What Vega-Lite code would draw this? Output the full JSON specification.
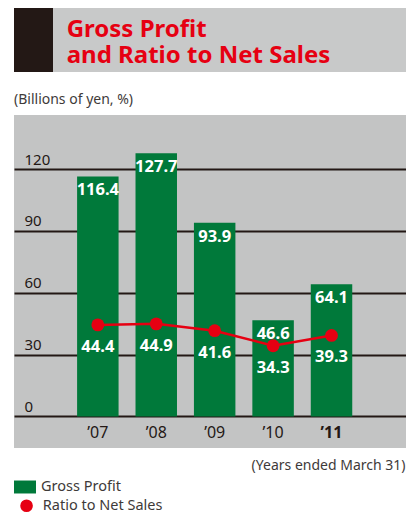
{
  "$schema": "https://vega.github.io/schema/vega-lite/v6.json",
  "background": "white",
  "padding": {"left": 14, "top": 8, "right": 0, "bottom": 0},
  "config": {"font": "Noto Sans", "view": {"stroke": null}},
  "datasets": {
    "main": [
      {"year": "’07", "gross": 116.4, "ratio": 44.4},
      {"year": "’08", "gross": 127.7, "ratio": 44.9},
      {"year": "’09", "gross": 93.9, "ratio": 41.6},
      {"year": "’10", "gross": 46.6, "ratio": 34.3},
      {"year": "’11", "gross": 64.1, "ratio": 39.3}
    ]
  },
  "spacing": 21,
  "vconcat": [
    {
      "hconcat": [
        {
          "width": 39, "height": 64,
          "view": {"fill": "#231815", "stroke": null},
          "data": {"values": [{}]},
          "mark": {"type": "text", "text": ""}
        },
        {
          "width": 353, "height": 64,
          "view": {"fill": "#c8c9c9", "stroke": null},
          "title": {
            "text": ["Gross Profit", "and Ratio to Net Sales"],
            "anchor": "start", "frame": "group", "orient": "top",
            "offset": -79.3, "baseline": "alphabetic", "dx": 13.7,
            "color": "#e60012", "fontSize": 24, "fontWeight": "bold", "lineHeight": 26
          },
          "data": {"values": [{}]},
          "mark": {"type": "text", "text": ""}
        }
      ],
      "spacing": 0
    },
    {
      "width": 392, "height": 333,
      "data": {"name": "main"},
      "view": {"fill": "#c3c4c4", "stroke": null},
      "title": {
        "text": "(Billions of yen, %)", "anchor": "start", "frame": "group", "orient": "top",
        "offset": -3, "baseline": "alphabetic", "fontSize": 14, "fontWeight": "normal", "color": "#3e3a39"
      },
      "encoding": {
        "x": {
          "field": "year", "type": "ordinal", "sort": null,
          "scale": {"paddingInner": 0.29, "paddingOuter": 1.03, "align": 0.54},
          "axis": {
            "orient": "bottom", "domain": false, "ticks": false, "tickSize": 0,
            "labelPadding": -16, "labelBaseline": "middle", "labelAngle": 0,
            "labelFontSize": 16, "labelColor": "#231815",
            "labelFontWeight": {"condition": {"test": "datum.value === '’11'", "value": "bold"}, "value": "normal"},
            "title": "(Years ended March 31)", "titleAnchor": "end", "titleAlign": "right",
            "titleX": 391, "titleY": 17, "titleBaseline": "middle",
            "titleFontSize": 14, "titleFontWeight": "normal", "titleColor": "#3e3a39"
          }
        }
      },
      "layer": [
        {
          "mark": {"type": "bar"},
          "encoding": {
            "y": {
              "field": "gross", "type": "quantitative", "title": null,
              "scale": {"domain": [-15.3, 146.2], "nice": false, "zero": false},
              "axis": {
                "orient": "left", "values": [0, 30, 60, 90, 120], "grid": true,
                "gridColor": "#231815", "gridWidth": 2, "domain": false, "ticks": false, "tickSize": 0,
                "labelAlign": "left", "labelBaseline": "alphabetic", "labelPadding": -10, "labelOffset": -5,
                "labelFontSize": 15, "labelColor": "#231815", "title": null
              }
            },
            "y2": {"datum": 0},
            "color": {
              "datum": "Gross Profit", "type": "nominal",
              "scale": {"range": ["#00793a"]},
              "legend": {
                "orient": "none", "legendX": 0, "legendY": 468, "title": null,
                "symbolType": "M-1,-0.59H1V0.59H-1Z", "symbolSize": 484, "symbolStrokeWidth": 0,
                "labelFontSize": 14.5, "labelColor": "#3e3a39", "labelOffset": 5, "padding": 0
              }
            }
          }
        },
        {
          "mark": {"type": "text", "color": "white", "fontWeight": "bold", "fontSize": 16.5, "baseline": "middle", "dy": 14},
          "encoding": {
            "y": {"field": "gross", "type": "quantitative", "title": null},
            "text": {"field": "gross", "type": "quantitative", "format": ".1f"}
          }
        },
        {
          "mark": {"type": "line", "color": "#e60012", "strokeWidth": 2.5},
          "encoding": {
            "y": {"field": "ratio", "type": "quantitative", "title": null}
          }
        },
        {
          "mark": {"type": "point", "filled": true, "color": "#e60012", "size": 165, "opacity": 1},
          "encoding": {
            "y": {"field": "ratio", "type": "quantitative", "title": null},
            "shape": {
              "datum": "Ratio to Net Sales", "type": "nominal",
              "scale": {"range": ["circle"]},
              "legend": {
                "orient": "none", "legendX": 5.3, "legendY": 490.5, "title": null,
                "symbolType": "circle", "symbolSize": 160, "symbolFillColor": "#e60012", "symbolStrokeColor": "#e60012",
                "symbolStrokeWidth": 0, "symbolOpacity": 1,
                "labelFontSize": 14.5, "labelColor": "#3e3a39", "labelOffset": 9, "padding": 0
              }
            }
          }
        },
        {
          "mark": {"type": "text", "color": "white", "fontWeight": "bold", "fontSize": 16.5, "baseline": "middle", "dy": 22},
          "encoding": {
            "y": {"field": "ratio", "type": "quantitative", "title": null},
            "text": {"field": "ratio", "type": "quantitative", "format": ".1f"}
          }
        }
      ]
    }
  ]
}
